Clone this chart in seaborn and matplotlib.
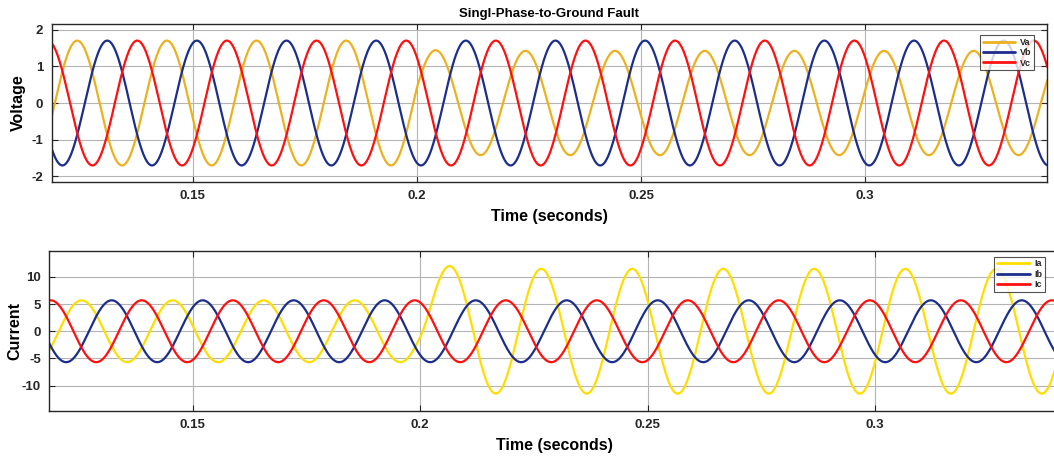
import numpy as np
import pandas as pd
import matplotlib
matplotlib.use("Agg")
import matplotlib.pyplot as plt
import seaborn as sns

# values (50 Hz, fault at 0.2 s)
freq = 50.0
fault_time = 0.2
x_limits = [0.1185, 0.3406]
x_ticks = [0.15, 0.2, 0.25, 0.3]

v_names = ["Va", "Vb", "Vc"]
v_amp_pre = [1.70, 1.70, 1.70]
v_amp_post = [1.42, 1.70, 1.70]
v_peak_pre = [0.1442, 0.1509, 0.1576]
v_peak_post = [0.1442, 0.1509, 0.1576]
v_colors = ["#EDB120", "#1C2E8C", "#FF1010"]
v_ticks = [-2, -1, 0, 1, 2]

i_names = ["Ia", "Ib", "Ic"]
i_amp_pre = [5.7, 5.7, 5.7]
i_amp_post = [11.5, 5.7, 5.7]
i_peak_pre = [0.1456, 0.1522, 0.1588]
i_peak_post = [0.2066, 0.1522, 0.1588]
i_colors = ["#FFDD00", "#1C2E8C", "#FF1010"]
i_ticks = [-10, -5, 0, 5, 10]

dc_tau = 0.003  # decay of the fault offset


def phase_wave(t, a_pre, p_pre, a_post, p_post):
    w = 2 * np.pi * freq
    pre = a_pre * np.cos(w * (t - p_pre))
    post = a_post * np.cos(w * (t - p_post))
    jump = a_pre * np.cos(w * (fault_time - p_pre)) - a_post * np.cos(w * (fault_time - p_post))
    post = post + jump * np.exp(-(t - fault_time) / dc_tau)
    return np.where(t < fault_time, pre, post)


t = np.linspace(0.118, 0.342, 4000)


def build(names, a_pre, p_pre, a_post, p_post):
    frames = []
    for k, n in enumerate(names):
        frames.append(pd.DataFrame({
            "time": t,
            "value": phase_wave(t, a_pre[k], p_pre[k], a_post[k], p_post[k]),
            "phase": n,
        }))
    return pd.concat(frames, ignore_index=True)


volt = build(v_names, v_amp_pre, v_peak_pre, v_amp_post, v_peak_post)
curr = build(i_names, i_amp_pre, i_peak_pre, i_amp_post, i_peak_post)

sns.set_theme(style="whitegrid")
plt.rcParams["font.family"] = ["Liberation Sans", "DejaVu Sans"]
plt.rcParams["font.weight"] = "bold"
plt.rcParams["axes.unicode_minus"] = False

fig = plt.figure(figsize=(10.54, 4.63), dpi=100)
ax1 = fig.add_axes([0.049, 0.607, 0.9445, 0.341])
ax2 = fig.add_axes([0.0468, 0.1123, 0.9589, 0.3457])

txt = "#262626"
for ax, df, names, cols, yt, ylim, ylab, lab_x, leg_xy in [
    (ax1, volt, v_names, v_colors, v_ticks, (-2.15, 2.15), "Voltage", -0.0258, (0.987, 0.930)),
    (ax2, curr, i_names, i_colors, i_ticks, (-14.7, 14.8), "Current", -0.0263, (0.985, 0.964)),
]:
    sns.lineplot(data=df, x="time", y="value", hue="phase", hue_order=names,
                 palette=cols, estimator=None, linewidth=1.6, ax=ax)
    ax.set_xlim(x_limits)
    ax.set_ylim(ylim)
    ax.set_xticks(x_ticks)
    ax.set_xticklabels([f"{v:g}" for v in x_ticks])
    ax.set_yticks(yt)
    ax.set_facecolor("white")
    ax.grid(True, color="#b4b4b4", linewidth=0.8)
    for s in ax.spines.values():
        s.set_color(txt)
        s.set_linewidth(1.0)
        s.set_visible(True)
    ax.tick_params(direction="in", length=4, width=0.8, color=txt,
                   top=True, right=True, bottom=True, left=True,
                   labelsize=9.5, labelcolor=txt, pad=6)
    for lab in ax.get_xticklabels() + ax.get_yticklabels():
        lab.set_fontweight("bold")
    ax.set_xlabel("Time (seconds)", fontsize=11.5, fontweight="bold", color="black", labelpad=5)
    ax.set_ylabel(ylab, fontsize=11.5, fontweight="bold", color="black")
    ax.yaxis.set_label_coords(lab_x, 0.5)
    leg = ax.legend(loc="upper right", bbox_to_anchor=leg_xy, fontsize=6.5, handlelength=3.6,
                    frameon=True, fancybox=False, borderpad=0.3,
                    labelspacing=0.15, handletextpad=0.5, borderaxespad=0.0)
    leg.get_frame().set_edgecolor(txt)
    leg.get_frame().set_linewidth(0.8)
    for lab in leg.get_texts():
        lab.set_fontweight("bold")
    for ln in leg.get_lines():
        ln.set_linewidth(2.0)

ax1.set_title("Singl-Phase-to-Ground Fault", fontsize=9.5, fontweight="bold", color="black", pad=5)

fig.savefig("out.png", dpi=100)
